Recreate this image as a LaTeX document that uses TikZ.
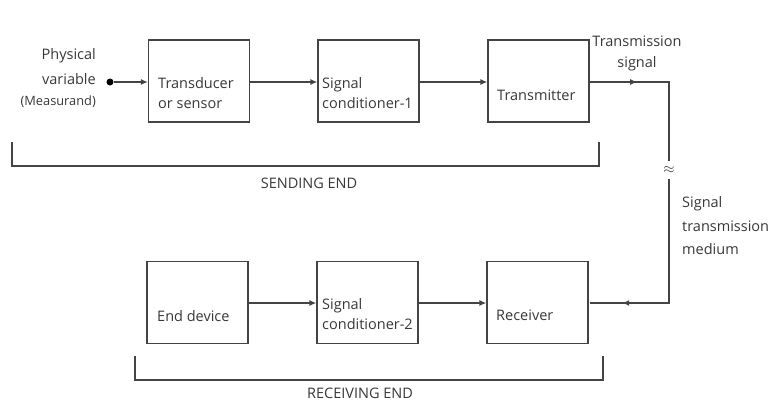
\documentclass[tikz,border=0pt]{standalone}
\usepackage{fontspec}
\setmainfont{Open Sans}
\usetikzlibrary{arrows.meta, decorations.markings}

\definecolor{linegray}{HTML}{444444}
\definecolor{textgray}{HTML}{383838}

\tikzset{
  blk/.style={draw=linegray, line width=1.3pt, minimum width=101pt, minimum height=82pt, inner sep=0pt},
  lbl/.style={text=textgray, font=\fontsize{14.5}{20}\selectfont, align=left, anchor=west, inner sep=0pt},
  wire/.style={draw=linegray, line width=1.3pt},
  tip/.style={-{Latex[length=7pt,width=6pt]}},
  midarrow/.style={postaction=decorate, decoration={markings,
      mark=at position #1 with {\arrow{Latex[length=7pt,width=6pt]}}}}
}

\begin{document}
\begin{tikzpicture}[x=1pt, y=-1pt]
  \useasboundingbox (0,0) rectangle (771,402);

  % sending side
  \node[blk] (td) at (199,81) {};
  \node[blk] (sc1) at (368.5,81) {};
  \node[blk] (tx) at (538.5,81) {};
  \node[lbl] (tdl) at (158,93) {Transducer\\or sensor};
  \node[lbl] (sc1l) at (322,93) {Signal\\conditioner-1};
  \node[lbl] (txl) at (497,95) {Transmitter};

  \node[lbl, anchor=east, align=right, font=\fontsize{14.5}{25}\selectfont] (pv) at (96,78)
    {Physical\\variable\\[-4pt]{\fontsize{12.8}{14}\selectfont(Measurand)}};
  \node[circle, fill=black, inner sep=0pt, minimum size=7pt] (dot) at (110,82) {};

  \draw[wire, tip] (dot.east) -- (dot -| td.west);
  \draw[wire, tip] (td.east |- dot) -- (dot -| sc1.west);
  \draw[wire, tip] (sc1.east |- dot) -- (dot -| tx.west);

  % transmission line
  \coordinate (bend1) at (669,82);
  \coordinate (brk1) at (669,161);
  \coordinate (brk2) at (669,179);
  \coordinate (bend2) at (669,303);
  \draw[wire, midarrow=0.3] (tx.east |- bend1) -- (bend1) -- (brk1);
  \node[inner sep=0pt, text=textgray, font=\fontsize{14}{14}\selectfont] (gap) at (669,170) {$\approx$};
  \draw[wire, midarrow=0.84] (brk2) -- (bend2) -- (bend2 -| tx.east);

  \node[lbl, anchor=center, align=center, font=\fontsize{14.5}{21}\selectfont] (tsl) at (637,53) {Transmission\\signal};
  \node[lbl, font=\fontsize{14.5}{23.5}\selectfont] (stm) at (682,226) {Signal\\transmission\\medium};

  % receiving side
  \node[blk] (ed) at (197.5,302.5) {};
  \node[blk] (sc2) at (367.5,302.5) {};
  \node[blk] (rx) at (537.5,302.5) {};
  \node[lbl] (edl) at (157,316) {End device};
  \node[lbl] (sc2l) at (322,314) {Signal\\conditioner-2};
  \node[lbl] (rxl) at (496,315) {Receiver};

  \draw[wire, tip] (ed.east |- bend2) -- (bend2 -| sc2.west);
  \draw[wire, tip] (sc2.east |- bend2) -- (bend2 -| rx.west);

  % brackets
  \draw[wire] (12,142) |- (599,166) -- (599,142);
  \node[lbl, anchor=center] (send) at (309,183) {SENDING END};
  \draw[wire] (135,356) |- (603,380) -- (603,356);
  \node[lbl, anchor=center] (recv) at (360,393) {RECEIVING END};
\end{tikzpicture}
\end{document}
